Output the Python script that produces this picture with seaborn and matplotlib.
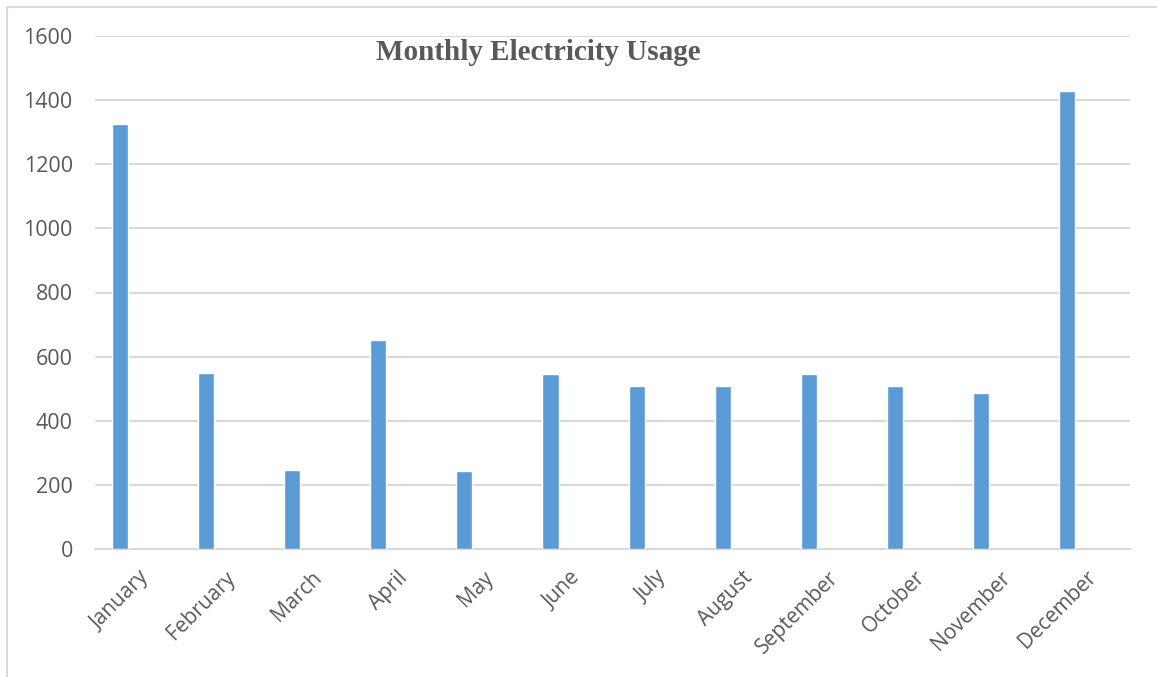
import matplotlib
matplotlib.use("Agg")
import matplotlib.pyplot as plt
import matplotlib.transforms as mtransforms
import seaborn as sns
import pandas as pd
from matplotlib.lines import Line2D

# dados
months = ["January", "February", "March", "April", "May", "June",
          "July", "August", "September", "October", "November", "December"]
usage = [1325, 549, 247, 653, 242, 546, 507, 507, 546, 507, 486, 1427]
yticks = [0, 200, 400, 600, 800, 1000, 1200, 1400, 1600]

df = pd.DataFrame({"Month": months, "Usage": usage})

sns.set_style("white")
plt.rcParams["font.family"] = ["Open Sans", "DejaVu Sans"]

fig = plt.figure(figsize=(11.57, 6.77), dpi=100)
ax = fig.add_axes([95 / 1157, 1 - 549 / 677, (1130 - 95) / 1157, (549 - 36) / 677])

sns.barplot(data=df, x="Month", y="Usage", color="#5b9bd5", width=0.186,
            saturation=1, ax=ax, zorder=3)

ax.set_ylim(0, 1600)
ax.set_xlim(-0.29, 11.73)
ax.set_yticks(yticks)
ax.set_yticklabels([str(v) for v in yticks])
ax.yaxis.grid(True, color="#d9d9d9", linewidth=1.5, zorder=0)
ax.set_axisbelow(True)
for s in ["top", "right", "left"]:
    ax.spines[s].set_visible(False)
ax.spines["bottom"].set_color("#d9d9d9")
ax.spines["bottom"].set_linewidth(1.5)
ax.set_xlabel("")
ax.set_ylabel("")
ax.tick_params(axis="y", length=0, pad=16, labelsize=15.5, labelcolor="#595959")
ax.tick_params(axis="x", length=0, pad=13, labelsize=15, labelcolor="#595959")

# desloca os rótulos do eixo x um pouco para a direita, como no Excel
shift = mtransforms.ScaledTranslation(0.19, 0, fig.dpi_scale_trans)
for lbl in ax.get_xticklabels():
    lbl.set_rotation(45)
    lbl.set_ha("right")
    lbl.set_rotation_mode("anchor")
    lbl.set_transform(lbl.get_transform() + shift)

fig.text(538 / 1157, 1 - 52 / 677, "Monthly Electricity Usage",
         family=["Liberation Serif", "DejaVu Serif"], fontweight="bold",
         fontsize=21, color="#595959", ha="center", va="center")

# moldura externa (só topo e esquerda)
fig.add_artist(Line2D([7 / 1157, 1], [1 - 7 / 677, 1 - 7 / 677],
                      transform=fig.transFigure, color="#d9d9d9", linewidth=1.5))
fig.add_artist(Line2D([7 / 1157, 7 / 1157], [0, 1 - 7 / 677],
                      transform=fig.transFigure, color="#d9d9d9", linewidth=1.5))

fig.savefig("out.png", dpi=100)
